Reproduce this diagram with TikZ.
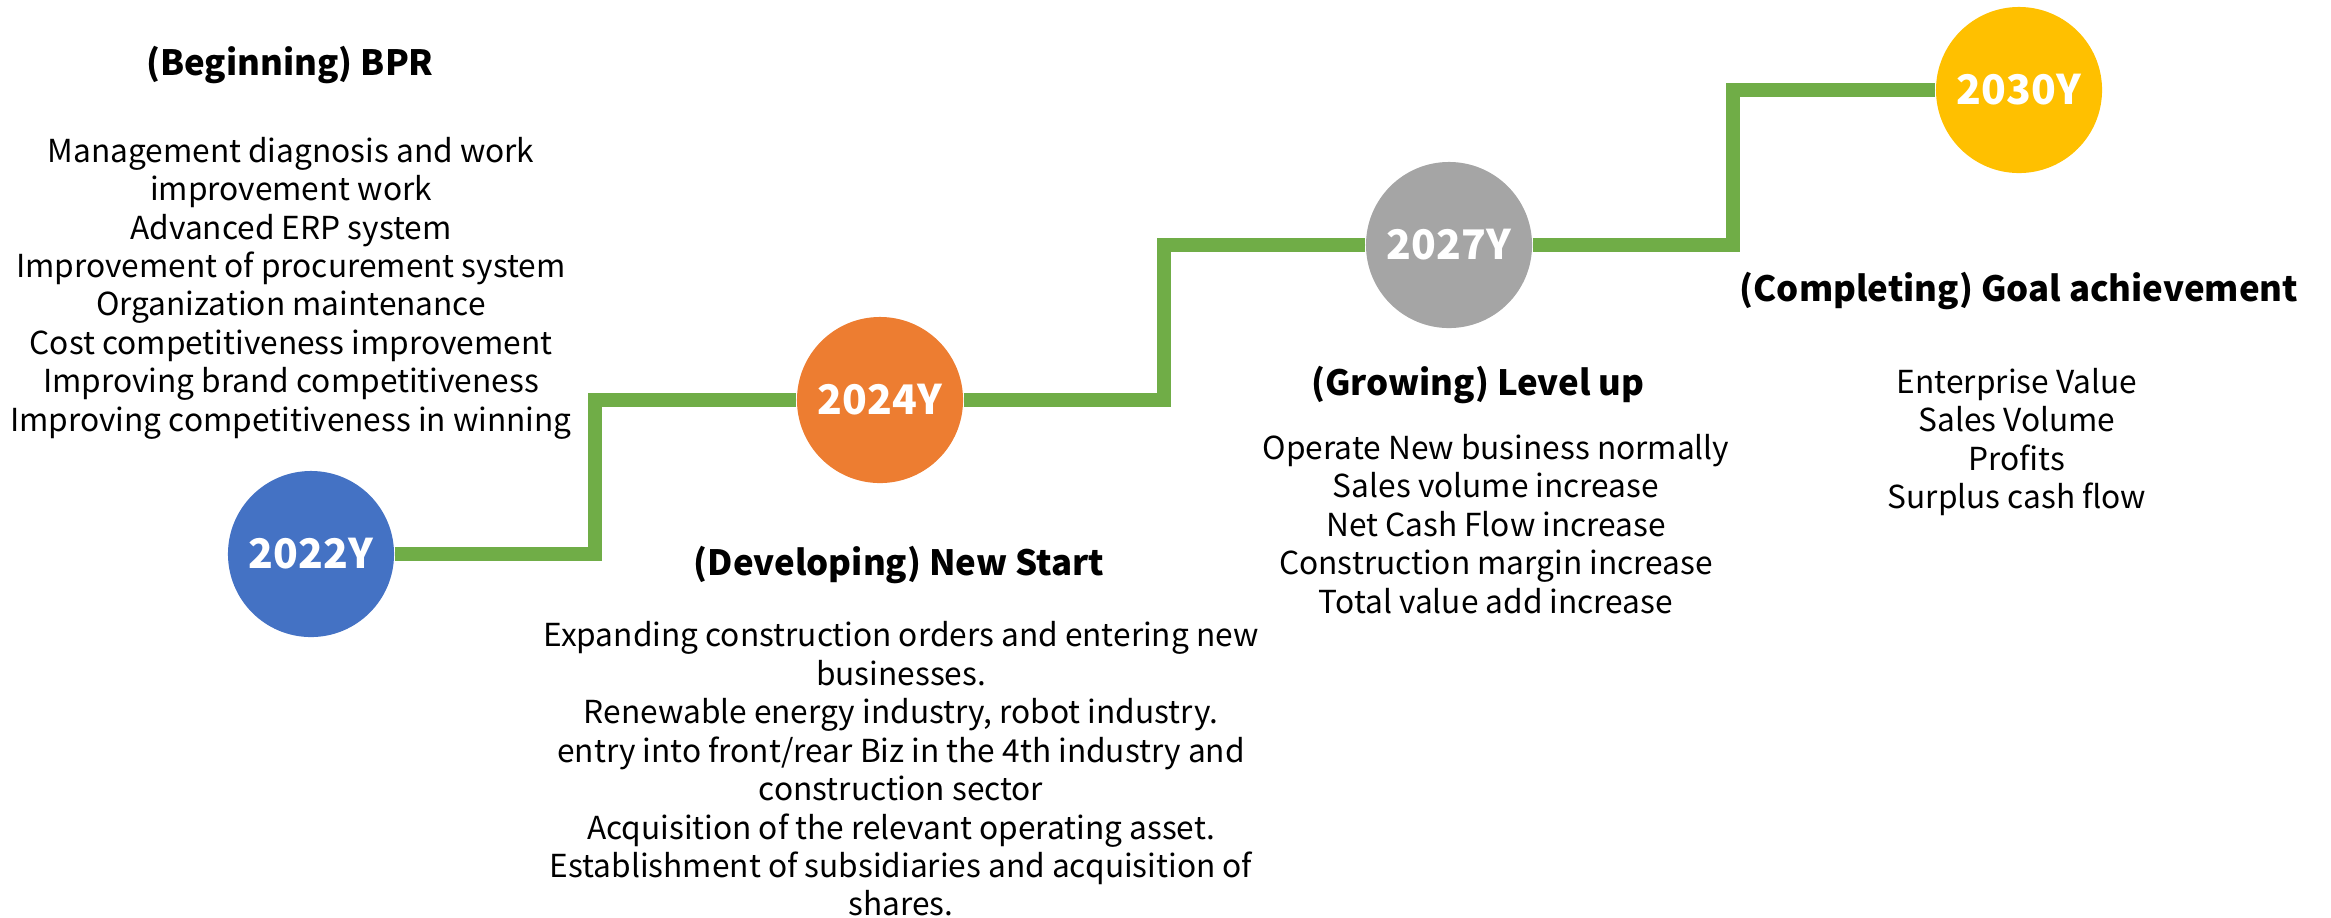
\documentclass[tikz,border=0pt]{standalone}
\usepackage{fontspec}
\setmainfont{Noto Sans CJK KR}
\definecolor{stepgreen}{HTML}{70AD47}
\definecolor{yblue}{HTML}{4472C4}
\definecolor{yorange}{HTML}{ED7D31}
\definecolor{ygray}{HTML}{A5A5A5}
\definecolor{ygold}{HTML}{FFC000}
\tikzset{
  year/.style={circle,fill=#1,minimum size=1.66cm,inner sep=0pt,text=white,
    font=\fontsize{11.6}{14}\selectfont\bfseries},
  phase/.style={font=\fontsize{9.9}{12}\selectfont\bfseries},
  items/.style={align=center,inner sep=0pt,font=\fontsize{9}{10.93}\selectfont},
  stair/.style={stepgreen,line width=0.14cm}
}
\begin{document}
\begin{tikzpicture}[x=0.01cm,y=-0.01cm]
\useasboundingbox (0,0) rectangle (2331,917);
% year circles
\node[year=yblue]   (y22) at (311,554) {2022Y};
\node[year=yorange] (y24) at (880,400) {2024Y};
\node[year=ygray]   (y27) at (1449,245) {2027Y};
\node[year=ygold]   (y30) at (2019,90)  {2030Y};
% the steps
\coordinate (s1) at (595,554);
\coordinate (s2) at (1164,400);
\coordinate (s3) at (1733,245);
\draw[stair] (y22) -- (s1) |- (y24);
\draw[stair] (y24) -- (s2) |- (y27);
\draw[stair] (y27) -- (s3) |- (y30);
% phases
\node[phase] (p1) at (290,65) {(Beginning) BPR};
\node[items] (t1) at (291,288) {Management diagnosis and work\\improvement work\\Advanced ERP system\\Improvement of procurement system\\Organization maintenance\\Cost competitiveness improvement\\Improving brand competitiveness\\Improving competitiveness in winning};
\node[phase] (p2) at (899,565) {(Developing) New Start};
\node[items] (t2) at (901,769) {Expanding construction orders and entering new\\businesses.\\Renewable energy industry, robot industry.\\entry into front/rear Biz in the 4th industry and\\construction sector\\Acquisition of the relevant operating asset.\\Establishment of subsidiaries and acquisition of\\shares.};
\node[phase] (p3) at (1478,385) {(Growing) Level up};
\node[items] (t3) at (1496,524) {Operate New business normally\\Sales volume increase\\Net Cash Flow increase\\Construction margin increase\\Total value add increase};
\node[phase] (p4) at (2019,291) {(Completing) Goal achievement};
\node[items] (t4) at (2017,442) {Enterprise Value\\Sales Volume\\Profits\\Surplus cash flow};
\end{tikzpicture}
\end{document}
